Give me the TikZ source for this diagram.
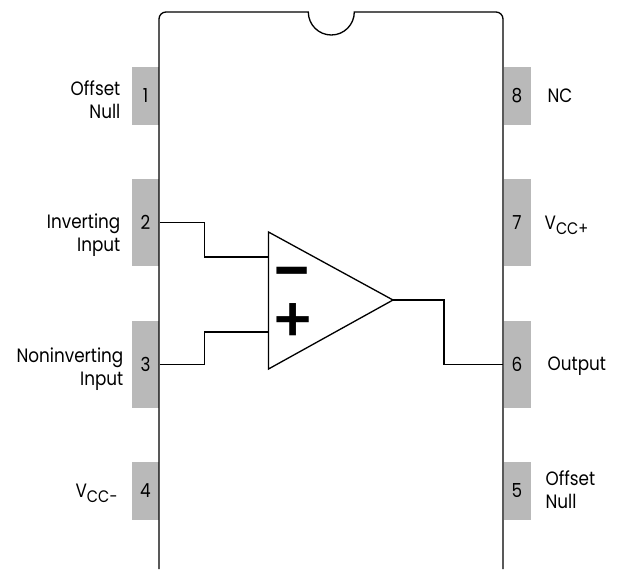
\documentclass[tikz,border=0pt]{standalone}
\usepackage{fontspec}
\setmainfont[FakeStretch=0.87]{Poppins}
\newfontfamily\signfont{Poppins Medium}
\usepackage{tikz}
\usetikzlibrary{calc,positioning}
\definecolor{pingray}{HTML}{B9B9B9}
\newcommand{\vccsub}[1]{V\raisebox{-0.45ex}{\fontsize{9.5}{10}\selectfont #1}}

\begin{document}
\begin{tikzpicture}[x=0.02cm, y=-0.02cm, line width=0.75pt]
   \useasboundingbox (0,0) rectangle (619,569);
   \begin{scope}[every node/.style={fill=pingray,inner sep=0pt,minimum width=0.54cm,font=\fontsize{11}{12}\selectfont}]
    \node (p1) [minimum height=1.16cm] at (145.5,96) {1};
    \node (p2) [minimum height=1.74cm] at (145.5,222.5) {2};
    \node (p3) [minimum height=1.74cm] at (145.5,364.5) {3};
    \node (p4) [minimum height=1.16cm] at (145.5,491) {4};
    \node (p8) [minimum height=1.16cm] at (517,96) {8};
    \node (p7) [minimum height=1.74cm] at (517,222.5) {7};
    \node (p6) [minimum height=1.74cm] at (517,364.5) {6};
    \node (p5) [minimum height=1.16cm] at (517,491) {5};
   \end{scope}
   % chip outline with notch
   \draw (159,569) -- (159,19) arc[start angle=180, end angle=270, radius=7] -- (308.3,12)
     arc[start angle=180, end angle=0, radius=23] -- (496,12)
     arc[start angle=270, end angle=360, radius=7] -- (503,569);
   % amplifier
   \coordinate (ninv) at (268.5,257);
   \coordinate (nnon) at (268.5,332);
   \coordinate (nout) at (393,300);
   \draw (268.5,232) -- (nout) -- (268.5,369) -- cycle;
   \begin{scope}[every node/.style={inner sep=0pt,text height=1pt,text depth=0pt}]
    \node (minus) at (292.5,297) {\fontsize{42}{42}\signfont −};
    \node (plus) at (293,342) {\fontsize{36}{36}\signfont +};
   \end{scope}
   \draw (p2.east) -- ++(45,0) |- (ninv);
   \draw (p3.east) -- ++(45,0) |- (nnon);
   \draw (nout) -- ++(51,0) |- (p6.west);
   \begin{scope}[every node/.style={inner sep=0pt,font=\fontsize{11}{13}\selectfont}]
    \node (l1) [align=right,anchor=east] at (121,99.5) {Offset\\Null};
    \node (l2) [align=right,anchor=east] at (121,235) {Inverting\\Input};
    \node (l3) [align=right,anchor=east] at (124,369) {Noninverting\\Input};
    \node (l4) [anchor=east] at (118,493) {\vccsub{CC−}};
    \node (l8) [anchor=west] at (547,96) {NC};
    \node (l7) [anchor=west] at (544,225) {\vccsub{CC+}};
    \node (l6) [anchor=west] at (547,366) {Output};
    \node (l5) [align=left,anchor=west] at (545,490) {Offset\\Null};
   \end{scope}
\end{tikzpicture}
\end{document}
